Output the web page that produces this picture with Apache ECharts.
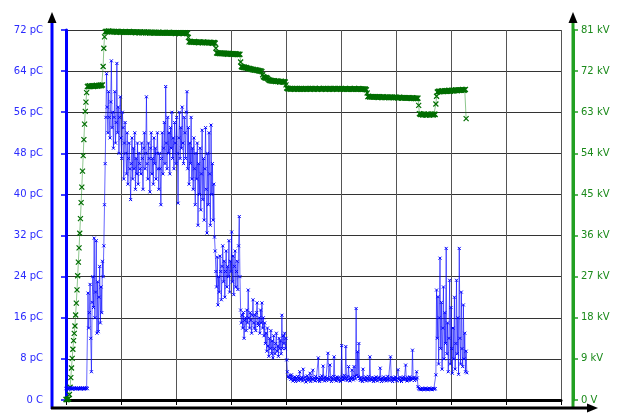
<!DOCTYPE html>
<html>
<head>
	<meta charset="utf-8">
	<title></title>
	<script src="https://cdn.jsdelivr.net/npm/echarts@6/dist/echarts.min.js"></script>
	<style>html,body{margin:0;padding:0;background:#fff;}</style>
</head>
<body>
	<div id="main" style="width:618px;height:414px;"></div>
	<script>
		// both records are sampled every 0.125 units of the x axis (axis runs 0..90)
		var sampleStep = 0.125

		// partial discharge charge, pC
		var chargePC = [
			2.2,2.3,2.2,2.1,2.3,2.2,2.4,2.2,2.3,2.1,2.2,2.3,2.4,2.2,2.1,2.3,2.2,2.2,2.4,2.3,
			2.1,2.2,2.3,2.2,2.4,2.3,2.1,2.2,2.3,2.2,2.4,2.2,
			20.8,14,17,22.5,12,5.5,19,24,18,31.5,16,21,31,13,23,13.3,20,26,15,22,17,27,24,
			30,38,46,55,63.5,
			57,52,60,55,51,58,66,53,56,49,55,60,50,54,65.5,52,57,48,55,59,51,47,56,53,43,50,54,
			48,44,52,42,47,50,45,39,46,51,43,49,45,52,41,47,44,50,42,48,46,45,
			44,50,47,41,49,52,45,48,59,46,43,50,47,40.5,49,52,44,47,42,51,46,49,43,48,52,45,41,48,
			45,38,47,52,44,49,54,46,61,50,45,55,48,52,44,53,49,56,47,51,45,54,50,46,55,48,38.3,51,
			56,47,53,49,57,50,46,55,
			52,47,56,60,45,53,42,50,46,55,43,49,41,51,45,
			38,48,43,50,34,46,40,49,37,44,52.5,39,47,35,45,
			53,41,32.5,48,38,52,44,34,53.5,40,46,35,42,31.7,
			29,25,22,27.8,18.5,24,21,28,25,19.5,26,30,23,27,20,25,29,22,26,24,31,21,27,25,32.7,
			23,28,20.5,26,29,22,25,27,21.5,30,35.7,24,
			17.5,15,16.5,14,17,12,15.5,16,13.5,17.5,15,21.4,16,14,17,15.5,13,16.5,19.5,15,14,16.5,
			13.5,17,18.9,15,14.5,16,13,17.5,15,18.9,14,16,12.5,15,
			11,13,9.5,14,10.5,8.5,12,10,13.5,9,11.5,8.2,12.5,10,9,11,13,9.5,10.5,8.5,12,10,11.5,9,
			16.5,10,12.5,11,13,10,12,
			7.8,5.5,4.5,
			4.6,4.3,4.8,4.0,4.9,4.2,3.7,4.4,3.9,4.5,3.6,4.2,4.0,4.6,3.8,4.3,5.5,3.9,4.1,4.4,
			3.7,6.0,4.2,3.9,4.5,3.5,4.1,4.7,3.8,4.3,4.0,5.2,3.6,4.4,4.1,5.8,3.9,4.2,3.7,4.6,
			4.0,4.3,3.8,8.2,4.1,3.6,4.4,4.0,4.7,3.9,6.6,4.2,3.7,4.5,4.0,3.8,4.3,9.1,4.1,3.9,
			6.8,4.4,3.6,4.2,4.0,4.6,8.4,3.9,4.3,3.7,4.5,4.1,3.8,4.4,4.0,3.6,4.2,10.6,4.5,3.9,
			4.3,4.8,4.0,10.4,4.2,3.8,4.6,6.5,4.1,3.7,4.4,4.0,5.8,4.3,3.9,6.5,4.6,4.1,17.8,4.8,
			9.4,4.5,11.0,4.2,3.8,4.4,4.0,3.6,6.0,4.3,4.1,3.9,4.5,3.7,4.2,4.0,4.6,3.8,8.4,4.1,
			3.9,4.4,4.0,3.6,4.3,4.1,3.8,4.5,4.0,3.7,4.2,4.4,3.9,6.2,4.1,3.6,4.3,4.0,4.5,3.8,
			4.1,4.3,3.7,4.0,4.6,3.9,4.2,3.8,8.4,4.4,4.0,3.6,4.3,4.1,3.9,4.5,4.0,3.7,4.2,5.9,
			4.1,3.8,4.4,4.0,3.6,4.3,4.1,4.5,3.9,4.2,6.8,4.0,3.7,4.4,4.1,3.8,4.5,4.2,3.9,4.3,
			9.7,4.1,4.4,3.8,4.2,4.0,5.5,4.3,
			2.6,2.3,2.1,2.2,2.0,2.1,2.3,2.2,2.1,2.0,2.2,2.3,2.1,2.2,2.0,2.1,2.3,2.2,2.1,2.2,
			2.0,2.1,2.3,2.2,2.1,2.2,
			4.9,21.4,12,20.1,7,16,27.6,10,19,6,14,22,8,17,11,29.5,9,15,5.5,12,23.3,7,18,10,
			5.2,14,8,20,6,11,23.3,9,16,5,29.5,12,7,21,10,6.5,18.5,8,13,5.5,9.5,5.3
		]

		// test voltage, kV
		var voltageKV = [
			0.1,0.1,0.1,0.2,0.3,1.2,2.8,4.9,7,9.1,11.1,13,14.6,16.2,18.6,21.2,24.1,27.2,30.2,33.3,
			36.5,39.7,43.2,46.6,50.1,53.5,57,60.4,63.2,65.2,67.3,
			68.6,68.7,68.6,68.8,68.7,68.6,68.7,68.8,68.7,68.6,68.7,68.8,68.7,68.9,68.8,68.7,68.8,68.9,
			68.8,68.9,68.8,68.9,69.0,
			73,77,79.5,
			80.6,80.7,80.7,80.6,80.7,80.8,80.7,80.6,80.7,80.7,80.6,80.7,80.6,80.7,80.6,80.6,80.7,80.5,
			80.6,80.7,80.6,80.6,80.5,80.6,80.7,80.6,80.5,80.6,80.6,80.5,80.6,80.5,80.6,80.6,80.5,80.7,
			80.6,80.5,80.6,80.5,80.5,80.6,80.5,80.6,80.4,80.5,80.6,80.5,80.5,80.4,80.5,80.6,80.5,80.4,
			80.5,80.5,80.4,80.6,80.5,80.4,80.5,80.4,80.5,80.5,80.4,80.3,80.5,80.4,80.5,80.4,80.4,80.5,
			80.3,80.4,80.5,80.4,80.4,80.3,80.5,80.4,80.3,80.4,80.4,80.3,80.5,80.4,80.3,80.4,80.4,80.3,
			80.4,80.3,80.4,80.5,80.3,80.4,80.3,80.4,80.3,80.4,80.3,80.4,80.2,80.3,80.4,80.3,80.3,80.4,
			80.2,80.3,80.4,80.3,80.3,80.2,80.4,80.3,80.3,80.4,80.3,80.2,80.3,
			79.4,
			78.4,78.5,78.4,78.3,78.4,78.4,78.3,78.4,78.5,78.3,78.4,78.3,78.3,78.4,78.2,78.3,78.4,78.3,
			78.3,78.2,78.3,78.4,78.3,78.2,78.3,78.3,78.2,78.3,78.2,78.3,78.2,78.3,78.2,78.2,78.1,78.2,
			78.3,78.2,78.1,
			77.0,
			76.0,75.9,76.0,75.9,75.9,75.8,76.0,75.9,75.8,75.9,75.9,75.8,75.9,75.8,75.8,75.9,75.7,75.8,
			75.9,75.8,75.8,75.7,75.8,75.8,75.7,75.8,75.7,75.7,75.8,75.7,75.6,75.7,75.7,75.6,75.7,
			74.0,
			73.0,72.9,72.9,72.8,72.9,72.8,72.7,72.8,72.7,72.6,72.6,72.5,72.6,72.5,72.4,72.4,72.3,72.4,
			72.3,72.2,72.2,72.3,72.2,72.1,72.2,72.1,72.0,72.1,72.0,72.0,71.9,
			71.2,
			70.8,70.7,70.6,70.5,70.6,70.5,70.4,70.2,70.1,70.0,69.9,70.0,69.9,69.8,69.9,69.8,69.9,69.8,
			69.7,69.8,69.8,69.7,69.8,69.7,69.6,69.7,69.8,69.7,69.6,69.7,69.6,69.7,69.6,
			69.0,
			68.3,68.2,68.1,68.2,68.1,68.2,68.0,68.1,68.2,68.1,68.1,68.0,68.2,68.1,68.1,68.2,68.0,68.1,
			68.1,68.2,68.0,68.1,68.2,68.1,68.0,68.1,68.1,68.2,68.1,68.0,68.1,68.2,68.1,68.1,68.0,68.2,
			68.1,68.1,68.2,68.1,68.0,68.1,68.2,68.1,68.1,68.0,68.1,68.2,68.2,68.1,68.1,68.0,68.1,68.2,
			68.1,68.1,68.2,68.0,68.1,68.1,68.2,68.1,68.0,68.1,68.2,68.1,68.1,68.0,68.2,68.1,68.1,68.2,
			68.1,68.0,68.1,68.1,68.2,68.1,68.0,68.1,68.2,68.1,68.1,68.0,68.1,68.2,68.1,68.0,68.1,68.1,
			68.0,68.1,68.2,68.1,68.0,68.1,68.1,68.0,68.1,68.2,68.1,68.0,68.1,68.1,68.0,68.2,68.1,68.0,
			68.1,68.0,68.1,68.0,68.1,68.0,68.1,68.0,67.9,
			67.2,
			66.4,66.5,66.4,66.3,66.4,66.4,66.3,66.4,66.3,66.4,66.3,66.4,66.3,66.3,66.4,66.2,66.3,66.4,
			66.3,66.3,66.2,66.3,66.4,66.3,66.2,66.3,66.3,66.2,66.3,66.3,66.2,66.3,66.2,66.3,66.3,66.2,
			66.3,66.2,66.2,66.3,66.2,66.2,66.3,66.2,66.1,66.2,66.3,66.2,66.2,66.1,66.2,66.1,66.2,66.2,
			66.1,66.2,66.1,66.2,66.1,66.1,66.2,66.1,66.1,66.0,66.1,66.2,66.1,66.0,66.1,66.1,66.0,66.1,
			66.0,66.1,
			64.5,
			62.7,62.6,62.5,62.6,62.5,62.4,62.5,62.6,62.5,62.4,62.5,62.4,62.5,62.6,62.5,62.4,62.5,62.5,
			62.6,62.5,62.4,62.5,62.6,62.5,
			64.8,66.5,
			67.4,67.5,67.6,67.5,67.6,67.5,67.6,67.7,67.6,67.5,67.6,67.7,67.6,67.6,67.7,67.6,67.7,67.8,
			67.7,67.6,67.7,67.8,67.7,67.7,67.8,67.7,67.8,67.9,67.8,67.7,67.8,67.9,67.8,67.8,67.9,67.8,
			67.9,68.0,67.9,67.8,67.9,68.0,
			61.6
		]

		var pcLabels = ['0 C','8 pC','16 pC','24 pC','32 pC','40 pC','48 pC','56 pC','64 pC','72 pC']
		var kvLabels = ['0 V','9 kV','18 kV','27 kV','36 kV','45 kV','54 kV','63 kV','72 kV','81 kV']

		function toPoints(vals) {
			return vals.map(function (v, i) { return [i * sampleStep, v] })
		}

		var cross = 'path://M0,0L8,8M8,0L0,8'
		var font = 'DejaVu Sans'

		var chart = echarts.init(document.getElementById('main'))

		var opt = {
			animation: false,
			grid: { left: 66, right: 57, top: 30, bottom: 14 },
			xAxis: {
				type: 'value', min: 0, max: 90, interval: 10, offset: 8,
				axisLine: { lineStyle: { color: '#000', width: 3 } },
				axisTick: { show: true, length: 5, lineStyle: { color: '#000' } },
				axisLabel: { show: false },
				splitLine: { show: true, lineStyle: { color: '#555', width: 1 } }
			},
			yAxis: [
				{
					type: 'value', position: 'left', min: 0, max: 72, interval: 8, offset: 14,
					axisLine: { show: true, lineStyle: { color: '#0000ff', width: 3 } },
					axisTick: { show: true, length: 5, lineStyle: { color: '#0000ff', width: 1.5 } },
					axisLabel: {
						margin: 9, color: '#2a2aff', fontSize: 10, fontFamily: font,
						formatter: function (v) { return pcLabels[Math.round(v / 8)] }
					},
					splitLine: { show: true, lineStyle: { color: '#333', width: 1 } }
				},
				{
					type: 'value', position: 'right', min: 0, max: 81, interval: 9, offset: 12,
					axisLine: { show: true, lineStyle: { color: '#22a022', width: 3 } },
					axisTick: { show: true, length: 5, lineStyle: { color: '#22a022', width: 1.5 } },
					axisLabel: {
						margin: 8, color: '#1a8a1a', fontSize: 10, fontFamily: font,
						formatter: function (v) { return kvLabels[Math.round(v / 9)] }
					},
					splitLine: { show: false }
				}
			],
			// axis lines run past the plot frame and end in black arrows
			graphic: [
				{ type: 'line', shape: { x1: 52, y1: 20, x2: 52, y2: 409 }, style: { stroke: '#0000ff', lineWidth: 3 } },
				{ type: 'line', shape: { x1: 573, y1: 20, x2: 573, y2: 409 }, style: { stroke: '#22a022', lineWidth: 3 } },
				{ type: 'line', shape: { x1: 51, y1: 408, x2: 590, y2: 408 }, style: { stroke: '#000', lineWidth: 3 } },
				{ type: 'polygon', shape: { points: [[47.5, 23], [56.5, 23], [52, 12]] }, style: { fill: '#000' } },
				{ type: 'polygon', shape: { points: [[568.5, 23], [577.5, 23], [573, 12]] }, style: { fill: '#000' } },
				{ type: 'polygon', shape: { points: [[587, 403.5], [587, 412.5], [598, 408]] }, style: { fill: '#000' } }
			],
			series: [
				{
					type: 'line', yAxisIndex: 1,
					data: toPoints(voltageKV),
					showAllSymbol: true, symbol: cross, symbolSize: 5,
					lineStyle: { color: 'rgba(0,128,0,0.45)', width: 1 },
					itemStyle: { color: 'transparent', borderColor: '#006e00', borderWidth: 1.2 },
					z: 2
				},
				{
					type: 'line', yAxisIndex: 0,
					data: toPoints(chargePC),
					showAllSymbol: true, symbol: cross, symbolSize: 3,
					lineStyle: { color: 'rgba(0,0,255,0.6)', width: 1 },
					itemStyle: { color: 'transparent', borderColor: '#0000ff', borderWidth: 1 },
					z: 3
				}
			]
		}

		chart.setOption(opt)
	</script>
</body>
</html>
